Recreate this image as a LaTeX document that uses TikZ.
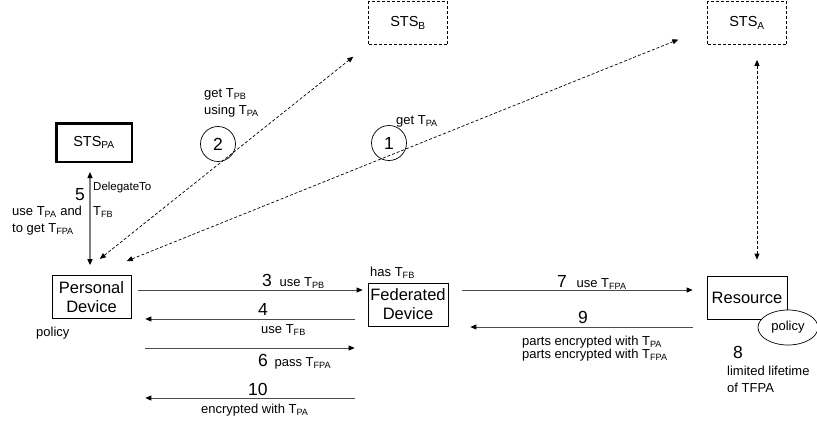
\documentclass[tikz,border=0pt]{standalone}
\usepackage{fontspec}
\setmainfont{Liberation Sans}
\usetikzlibrary{positioning,shapes.geometric,arrows.meta}
\newcommand{\tk}[1]{T\textsubscript{#1}}
\newcommand{\stepno}[1]{{\fontsize{17.5}{20}\selectfont #1}}

\begin{document}
\begin{tikzpicture}[x=1pt, y=-1pt,
  box/.style={draw, line width=0.7pt, minimum width=79pt, minimum height=43pt, align=center, inner sep=1pt, font=\fontsize{16.5}{19}\selectfont},
  sts/.style={draw, dash pattern=on 3pt off 2pt, line width=0.7pt, minimum width=79pt, minimum height=43pt, inner sep=1pt, font=\fontsize{14.5}{17}\selectfont},
  stepcircle/.style={draw, circle, minimum size=35pt, inner sep=0pt, line width=0.7pt, font=\fontsize{17.5}{20}\selectfont},
  lbl/.style={inner sep=0pt, anchor=base west, font=\fontsize{13}{17}\selectfont},
  small/.style={inner sep=0pt, anchor=base west, font=\fontsize{11.5}{14}\selectfont},
  msg/.style={-{Triangle[length=6pt, width=5pt, color=black]}, draw=black!70, line width=0.8pt},
  fetch/.style={{Triangle[length=6pt, width=5pt]}-{Triangle[length=6pt, width=5pt]}, dash pattern=on 3pt off 2pt, line width=0.7pt}
]
  \useasboundingbox (0,0) rectangle (817,424);

  % token services
  \node[sts] (stsb) at (408,23) {STS\textsubscript{B}};
  \node[sts] (stsa) at (747,23) {STS\textsubscript{A}};
  \node[box, line width=2.5pt, minimum width=75.5pt, minimum height=38.5pt, font=\fontsize{14.5}{17}\selectfont] (stspa) at (94,142.5) {STS\textsubscript{PA}};

  % devices and resource
  \node[box] (personal) at (91.5,297) {Personal\\Device};
  \node[box, minimum width=80pt] (federated) at (408,304.5) {Federated\\Device};
  \node[box, minimum width=80pt] (resource) at (747,297.5) {Resource};
  \node[draw, ellipse, fill=white, line width=0.7pt, minimum width=60pt, minimum height=35pt, inner sep=0pt, font=\fontsize{13}{15}\selectfont] (rpolicy) at (788,327.5) {policy};

  % steps 1 and 2
  \node[stepcircle] (stepone) at (389,143) {1};
  \node[stepcircle] (steptwo) at (218,144) {2};

  \draw[fetch, shorten <=26pt, shorten >=19pt] ([xshift=-12pt]personal.north) -- (stsb.south west);
  \draw[fetch, shorten <=38pt, shorten >=31pt] (personal.north) -- ([yshift=-5pt]stsa.west);
  \draw[fetch, shorten <=15pt, shorten >=16pt] ([xshift=10pt]stsa.south) -- ([xshift=10pt]resource.north);

  \node[lbl] (getpb) at (204,97) {get \tk{PB}};
  \node[lbl] (usingpa) at (204,114) {using \tk{PA}};
  \node[lbl] (getpa) at (396,124) {get \tk{PA}};

  % step 5
  \draw[{Triangle[length=6pt, width=5pt, color=black]}-{Triangle[length=6pt, width=5pt, color=black]}, draw=black!50, line width=1.2pt, shorten <=9pt, shorten >=10pt]
    ([xshift=-4pt]stspa.south) -- ([xshift=-4pt]stspa.south |- personal.north);
  \node[lbl, font=\fontsize{17.5}{20}\selectfont] (five) at (75,200) {5};
  \node[small] (delegate) at (93,190) {DelegateTo};
  \node[lbl] (usepa) at (12,215) {use \tk{PA} and};
  \node[lbl] (fb) at (93,215) {\tk{FB}};
  \node[lbl] (getfpa) at (12,232) {to get \tk{FPA}};
  \node[lbl] (ppolicy) at (36,336) {policy};

  % messages between personal and federated device
  \draw[msg, shorten <=7pt, shorten >=5pt] ([yshift=7pt]personal.east) -- ([yshift=7pt]personal.east -| federated.west);
  \draw[msg, shorten <=13pt, shorten >=14pt] ([yshift=-22pt]personal.east -| federated.west) -- ([yshift=-22pt]personal.east);
  \draw[msg, shorten <=14pt, shorten >=13pt] ([yshift=-51pt]personal.east) -- ([yshift=-51pt]personal.east -| federated.west);
  \draw[msg, shorten <=13pt, shorten >=14pt] ([yshift=-101pt]personal.east -| federated.west) -- ([yshift=-101pt]personal.east);

  \node[lbl] (three) at (262,286.5) {\stepno{3}\hspace{4pt} use \tk{PB}};
  \node[lbl] (hasfb) at (370,276) {has \tk{FB}};
  \node[lbl, font=\fontsize{17.5}{20}\selectfont] (four) at (258,315) {4};
  \node[lbl] (usefb) at (261,333) {use \tk{FB}};
  \node[lbl] (six) at (258,366.5) {\stepno{6}\hspace{3pt} pass \tk{FPA}};
  \node[lbl, font=\fontsize{17.5}{20}\selectfont] (ten) at (248,395) {10};
  \node[lbl] (encpa) at (201,413) {encrypted with \tk{PA}};

  % messages between federated device and resource
  \draw[msg, shorten <=14pt, shorten >=14pt] ([yshift=14.5pt]federated.east) -- ([yshift=14.5pt]federated.east -| resource.west);
  \draw[msg, shorten <=14pt, shorten >=22pt] ([yshift=-22.5pt]federated.east -| resource.west) -- ([yshift=-22.5pt]federated.east);

  \node[lbl] (seven) at (557,287) {\stepno{7}\hspace{6pt} use \tk{FPA}};
  \node[lbl, font=\fontsize{17.5}{20}\selectfont] (nine) at (578,323) {9};
  \node[lbl] (partspa) at (522,345) {parts encrypted with \tk{PA}};
  \node[lbl] (partsfpa) at (522,358.5) {parts encrypted with \tk{FPA}};

  % step 8
  \node[lbl, font=\fontsize{17.5}{20}\selectfont] (eight) at (733,358) {8};
  \node[lbl] (lifetime) at (727,375) {limited lifetime};
  \node[lbl] (oftfpa) at (727,392) {of TFPA};
\end{tikzpicture}
\end{document}
